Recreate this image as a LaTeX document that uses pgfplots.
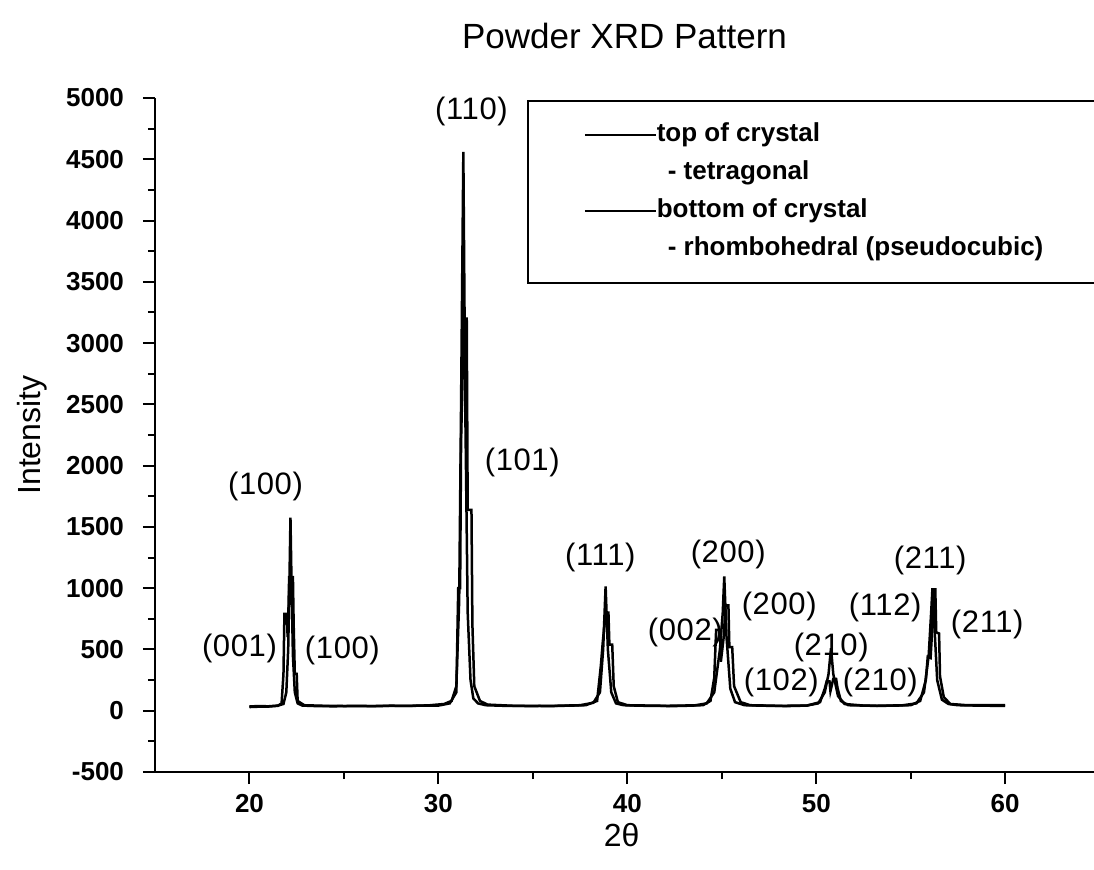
\documentclass[border=0pt]{standalone}
\usepackage{pgfplots}
\pgfplotsset{compat=1.18}
\usepackage{fontspec}
\setmainfont{Liberation Sans}
\newfontfamily\labfont[LetterSpace=2]{Liberation Sans}

\begin{document}
\begin{tikzpicture}
\begin{axis}[
  scale only axis, width=469.5pt, height=337pt,
  xmin=15, xmax=64.7, ymin=-500, ymax=5000,
  axis lines*=left,
  axis line style={line width=1.1pt, black},
  tick align=outside,
  xtick={20,30,...,60}, minor xtick={25,35,45,55},
  ytick={-500,0,...,5000}, minor ytick={-250,250,...,4750},
  major tick length=6pt, minor tick length=3.5pt,
  every tick/.style={line width=1pt, black},
  scaled ticks=false,
  /pgf/number format/assume math mode=true,
  /pgf/number format/1000 sep={},
  ticklabel style={font=\fontsize{13}{15}\selectfont\bfseries},
  yticklabel style={xshift=-6pt},
  xticklabel style={yshift=-1.5pt},
  title={Powder XRD Pattern},
  title style={at={(0.5,1)}, anchor=center, yshift=25pt, font=\fontsize{17.5}{20}\selectfont},
  ylabel={Intensity},
  ylabel style={at={(axis description cs:-0.131,0.5)}, anchor=center, font=\fontsize{16}{18}\selectfont},
  xlabel={2θ},
  xlabel style={at={(axis description cs:0.497,-0.0935)}, anchor=center, font=\fontsize{16}{18}\selectfont},
  legend style={at={(0.396,0.997)}, anchor=north west, draw=black, line width=1pt,
    inner xsep=28pt, inner ysep=11pt, font=\fontsize{13}{15}\selectfont\bfseries,
    row sep=7pt, nodes={inner sep=0pt, text height=9pt, text depth=3pt, anchor=west}},
  legend cell align=left,
  legend image code/.code={\draw[#1, line width=1pt] (0pt,0pt) -- (35.5pt,0pt);},
  every axis plot/.append style={line width=1.25pt, black},
  clip=false,
]
% top of crystal - tetragonal
\addplot[black] coordinates {
(20,30) (20.5,33) (21,34) (21.5,40) (21.7,60) (21.8,300) (21.85,790) (21.98,790) (22.02,600) (22.06,800)
(22.1,1090) (22.3,1090) (22.34,700) (22.4,300) (22.5,300) (22.55,80) (22.9,45) (24,40) (26,37) (28,40) (30,42)
(30.6,60) (30.95,150) (31.05,1000) (31.15,1000) (31.2,2200) (31.35,3200) (31.5,3200) (31.55,1640) (31.75,1640) (31.8,700)
(31.9,200) (32.2,80) (32.6,50) (34,40) (36,38) (37.8,45) (38.4,80) (38.6,370) (38.7,560)
(38.85,800) (39.0,800) (39.05,540) (39.2,540) (39.28,200) (39.5,70) (40,45) (42,40) (44,45) (44.4,80)
(44.6,270) (44.7,660) (44.9,660) (44.95,400) (45.1,600) (45.2,860) (45.35,860) (45.4,520) (45.55,520)
(45.65,200) (46.0,70) (46.5,45) (48,40) (49.5,42) (50.2,70) (50.45,180) (50.55,240) (50.7,240)
(50.75,160) (50.9,260) (51.05,260) (51.12,190) (51.3,80) (51.7,45) (53,40) (55,45) (55.5,80) (55.8,250)
(55.9,440) (56.05,430) (56.15,700) (56.22,990) (56.3,990) (56.35,640) (56.5,630) (56.55,280) (56.75,110)
(57.1,55) (58,45) (60,45)
};
\addlegendentry{top of crystal}
\addlegendimage{empty legend}
\addlegendentry{\hspace*{5.5pt}- tetragonal}
% bottom of crystal - rhombohedral
\addplot[black] coordinates {
(20.0,35) (20.5,38) (21.0,36) (21.5,42) (21.8,55) (21.95,150) (22.05,500) (22.12,1100)
(22.17,1575) (22.22,1100) (22.3,450) (22.4,150) (22.55,60) (22.8,42) (23.5,38) (24.5,36)
(25.5,40) (26.5,38) (27.5,41) (28.5,39) (29.5,44) (30.3,55) (30.7,80) (30.95,200) (31.1,900)
(31.2,2500) (31.32,4560) (31.42,2500) (31.55,800) (31.7,250) (31.85,100) (32.1,60) (32.5,45)
(33.5,40) (35,38) (36.5,41) (37.5,45) (38.2,65) (38.55,150) (38.72,500) (38.85,1015) (38.97,500)
(39.15,150) (39.4,60) (39.8,45) (41,40) (42.5,38) (43.5,42) (44.2,60) (44.6,150) (44.9,500)
(45.05,800) (45.13,1095) (45.25,600) (45.45,180) (45.7,70) (46.2,45) (47.5,40) (48.5,38)
(49.5,42) (50.1,60) (50.45,150) (50.65,300) (50.78,510) (50.9,300) (51.15,120) (51.5,55)
(52.5,42) (53.5,40) (54.5,43) (55.3,60) (55.7,150) (55.95,450) (56.08,800) (56.15,1000)
(56.25,700) (56.4,250) (56.65,90) (57.0,55) (57.5,45) (58.5,42) (59.5,40) (60,40)
};
\addlegendentry{bottom of crystal}
\addlegendimage{empty legend}
\addlegendentry{\hspace*{5.5pt}- rhombohedral (pseudocubic)\hspace*{40pt}}

\begin{scope}[every node/.style={font=\labfont\fontsize{15.5}{17}\selectfont}]
\node at (axis cs:19.47,506) {(001)};
\node at (axis cs:20.85,1828) {(100)};
\node at (axis cs:24.92,490) {(100)};
\node at (axis cs:31.75,4888) {(110)};
\node at (axis cs:34.44,2024) {(101)};
\node at (axis cs:38.57,1249) {(111)};
\node at (axis cs:45.34,1273) {(200)};
\node at (axis cs:43.07,637) {(002)};
\node at (axis cs:48.04,849) {(200)};
\node at (axis cs:48.15,228) {(102)};
\node at (axis cs:50.79,514) {(210)};
\node at (axis cs:53.39,228) {(210)};
\node at (axis cs:53.65,841) {(112)};
\node at (axis cs:56.03,1224) {(211)};
\node at (axis cs:59.05,702) {(211)};
\end{scope}
\end{axis}
\pgfresetboundingbox
\useasboundingbox (-77.5pt,-48.5pt) rectangle (469.5pt,386pt);
\end{tikzpicture}
\end{document}
